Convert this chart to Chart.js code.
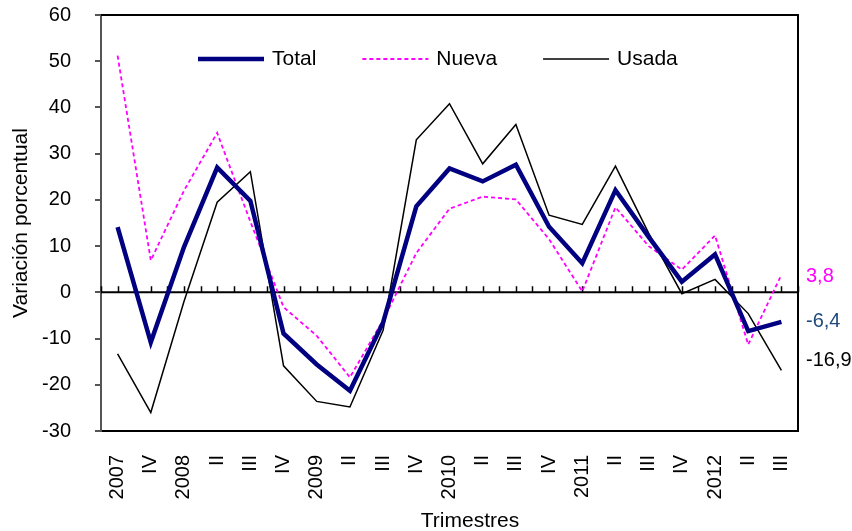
<!DOCTYPE html>
<html>
<head>
<meta charset="utf-8">
<script src="https://cdn.jsdelivr.net/npm/chart.js@4/dist/chart.umd.min.js"></script>
<style>
  body { margin: 0; background: #fff; }
  #wrap { width: 852px; height: 531px; }
</style>
</head>
<body>
<div id="wrap"><canvas id="chart" width="852" height="531"></canvas></div>
<script>
// Variación porcentual por trimestre
const quarters = ['2007','IV','2008','II','III','IV','2009','II','III','IV','2010','II','III','IV','2011','II','III','IV','2012','II','III'];
const total = [14.1, -10.8, 9.8, 27.0, 19.8, -8.9, -15.6, -21.3, -6.5, 18.6, 26.8, 24.0, 27.6, 14.2, 6.3, 22.1, 12.0, 2.3, 8.2, -8.4, -6.4];
const nueva = [51.2, 6.9, 22.0, 34.5, 15.3, -3.2, -9.4, -18.4, -6.0, 8.5, 18.1, 20.7, 20.1, 11.5, 0.2, 18.4, 10.0, 4.9, 12.3, -11.3, 3.8];
const usada = [-13.3, -26.0, -2.0, 19.5, 26.1, -15.9, -23.6, -24.8, -8.2, 33.0, 40.8, 27.8, 36.3, 16.7, 14.7, 27.3, 12.8, -0.3, 2.8, -4.6, -16.9];
const yTicks = { min: -30, max: 60, step: 10 };

const FONT = '"Liberation Sans", Arial, sans-serif';

// zero line with small tick marks, plot frame, legend, end labels, x title
const decor = {
  id: 'decor',
  beforeDatasetsDraw(chart) {
    const { ctx, chartArea: a, scales: { x, y } } = chart;
    const y0 = y.getPixelForValue(0);
    ctx.save();
    ctx.strokeStyle = '#000';
    ctx.lineWidth = 2;
    ctx.beginPath();
    ctx.moveTo(a.left, y0); ctx.lineTo(a.right, y0);
    ctx.stroke();
    ctx.lineWidth = 1.5;
    ctx.beginPath();
    for (let v = -0.5; v <= quarters.length - 0.5; v += 0.5) {
      const px = Math.round(x.getPixelForValue(v)) + 0.5;
      ctx.moveTo(px, y0); ctx.lineTo(px, y0 - 6);
    }
    ctx.stroke();
    // top and right frame
    ctx.lineWidth = 2;
    ctx.beginPath();
    ctx.moveTo(a.left, a.top); ctx.lineTo(a.right, a.top); ctx.lineTo(a.right, a.bottom);
    ctx.stroke();
    ctx.restore();
  },
  afterDatasetsDraw(chart) {
    const { ctx, chartArea: a, scales: { y } } = chart;
    ctx.save();
    // legend
    let lx = 198;
    const ly = 59;
    ctx.font = '21px ' + FONT;
    ctx.textBaseline = 'middle';
    chart.data.datasets.forEach(ds => {
      ctx.strokeStyle = ds.borderColor;
      ctx.lineWidth = ds.borderWidth;
      ctx.setLineDash(ds.borderDash || []);
      ctx.beginPath();
      ctx.moveTo(lx, ly); ctx.lineTo(lx + 66, ly);
      ctx.stroke();
      ctx.setLineDash([]);
      ctx.fillStyle = '#000';
      ctx.textAlign = 'left';
      ctx.fillText(ds.label, lx + 74, ly);
      lx += 74 + ctx.measureText(ds.label).width + 46;
    });
    // last values at the right
    ctx.font = '20px ' + FONT;
    chart.data.datasets.forEach(ds => {
      const v = ds.data[ds.data.length - 1];
      const py = y.getPixelForValue(v) + (ds.labelNudge || 0);
      ctx.fillStyle = ds.labelColor;
      ctx.fillText(v.toFixed(1).replace('.', ','), a.right + 8, py);
    });
    // x title
    ctx.fillStyle = '#000';
    ctx.font = '21px ' + FONT;
    ctx.textAlign = 'center';
    ctx.fillText('Trimestres', 470, 521);
    ctx.restore();
  }
};

new Chart(document.getElementById('chart'), {
  type: 'line',
  data: {
    labels: quarters,
    datasets: [
      { label: 'Total', data: total, borderColor: '#000080', borderWidth: 4.5, labelColor: '#1F497D', labelNudge: 0 },
      { label: 'Nueva', data: nueva, borderColor: '#FF00FF', borderWidth: 1.8, borderDash: [4, 3], labelColor: '#FF00FF', labelNudge: 2 },
      { label: 'Usada', data: usada, borderColor: '#000000', borderWidth: 1.5, labelColor: '#000000', labelNudge: -10 }
    ]
  },
  options: {
    responsive: false,
    animation: false,
    layout: { padding: { left: 0, right: 54, top: 15, bottom: 0 } },
    elements: { point: { radius: 0 }, line: { tension: 0, borderJoinStyle: 'miter' } },
    plugins: { legend: { display: false }, tooltip: { enabled: false } },
    scales: {
      x: {
        type: 'category',
        offset: true,
        grid: { drawOnChartArea: false, drawTicks: false },
        border: { color: '#000', width: 2 },
        ticks: {
          autoSkip: false, minRotation: 90, maxRotation: 90, padding: 24,
          color: '#000', font: { family: FONT, size: 20 }
        },
        afterFit: s => { s.height = 100; }
      },
      y: {
        min: yTicks.min, max: yTicks.max,
        grid: { drawOnChartArea: false, drawTicks: true, tickLength: 6, color: '#555', lineWidth: 2 },
        border: { color: '#555', width: 2 },
        ticks: { stepSize: yTicks.step, padding: 24, color: '#000', font: { family: FONT, size: 20 } },
        title: {
          display: true, text: 'Variación porcentual', color: '#000',
          font: { family: FONT, size: 21 }, padding: { top: 9, bottom: 0 }
        },
        afterFit: s => { s.width = 101; s.paddingTop = 0; s.paddingBottom = 0; }
      }
    }
  },
  plugins: [decor]
});
</script>
</body>
</html>
